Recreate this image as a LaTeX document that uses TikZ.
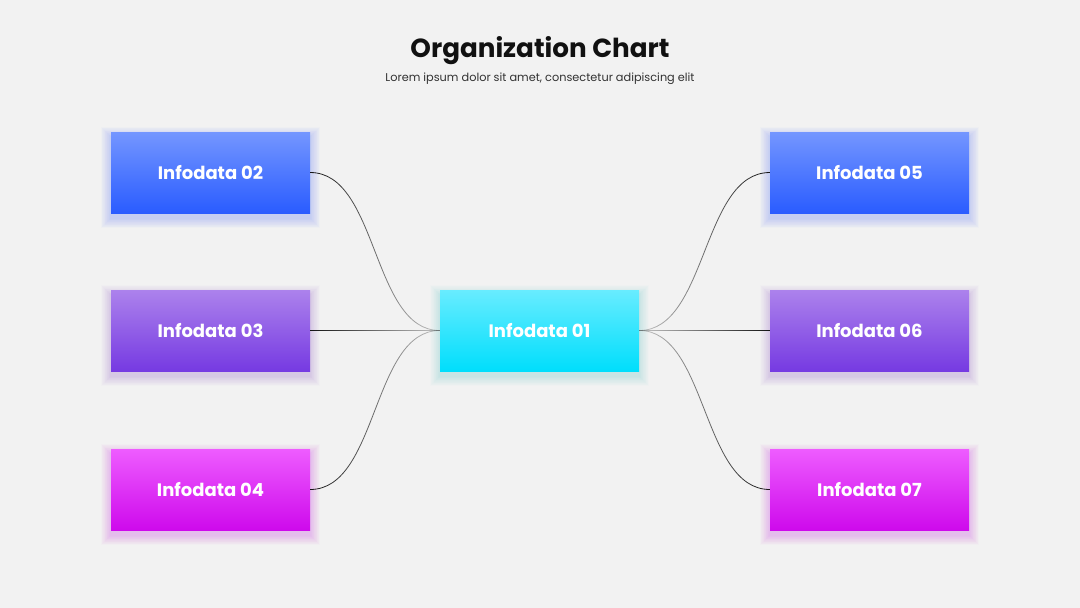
\documentclass[tikz,border=0pt]{standalone}
\usepackage{fontspec}
\setmainfont{Poppins}
\usetikzlibrary{fadings}
\pgfdeclarelayer{bottom}
\pgfdeclarelayer{glowlayer}
\pgfsetlayers{bottom,glowlayer,main}
\definecolor{bg}{RGB}{242,242,242}
\definecolor{blueT}{RGB}{116,150,255}
\definecolor{blueB}{RGB}{42,92,255}
\definecolor{purT}{RGB}{172,130,236}
\definecolor{purB}{RGB}{118,58,226}
\definecolor{magT}{RGB}{238,92,255}
\definecolor{magB}{RGB}{206,10,236}
\definecolor{cyaT}{RGB}{104,236,255}
\definecolor{cyaB}{RGB}{0,222,252}
\definecolor{ink}{RGB}{17,17,17}
\definecolor{sub}{RGB}{50,50,50}
\definecolor{wire}{RGB}{20,20,20}
\tikzfading[name=fadeEast, left color=transparent!0, right color=transparent!80]
\tikzfading[name=fadeWest, left color=transparent!80, right color=transparent!0]
\tikzset{
  card/.style={minimum width=199pt, minimum height=81pt, inner sep=0pt,
    text=white, font=\bfseries\fontsize{18}{21}\selectfont},
  blue/.style={card, top color=blueT, bottom color=blueB},
  purp/.style={card, top color=purT, bottom color=purB},
  mage/.style={card, top color=magT, bottom color=magB},
  cyan/.style={card, top color=cyaT, bottom color=cyaB},
  wireL/.style={draw=wire, line width=0.8pt, path fading=fadeEast},
  wireR/.style={draw=wire, line width=0.8pt, path fading=fadeWest},
  glowfill/.style={fill=#1, opacity=0.016},
}
\newcommand{\cardglow}[2]{%
  \begin{pgfonlayer}{glowlayer}
  \foreach \i in {1,...,14}{
    \fill[glowfill=#2] ([shift={(-\i*0.7,5-\i*0.7)}]#1.north west) rectangle ([shift={(\i*0.7,5+\i*0.7)}]#1.south east);
  }
  \end{pgfonlayer}}
\begin{document}
\begin{tikzpicture}[x=1pt,y=-1pt]
\begin{pgfonlayer}{bottom}
\fill[bg] (0,0) rectangle (1080,608);
\end{pgfonlayer}
\useasboundingbox (0,0) rectangle (1080,608);
\node[text=ink, font=\bfseries\fontsize{26.2}{30}\selectfont] (title) at (540,51) {Organization Chart};
\node[text=sub, font=\fontsize{11.3}{13}\selectfont] (subtitle) at (540,78.5) {Lorem ipsum dolor sit amet, consectetur adipiscing elit};

\node[cyan] (b01) at (539.5,330.5) {Infodata 01};
\node[blue] (b02) at (210.5,172.5) {Infodata 02};
\node[purp] (b03) at (210.5,330.5) {Infodata 03};
\node[mage] (b04) at (210.5,489.5) {Infodata 04};
\node[blue] (b05) at (869.5,172.5) {Infodata 05};
\node[purp] (b06) at (869.5,330.5) {Infodata 06};
\node[mage] (b07) at (869.5,489.5) {Infodata 07};

\cardglow{b01}{cyaB!60!gray}
\cardglow{b02}{blueB}
\cardglow{b03}{purB}
\cardglow{b04}{magB}
\cardglow{b05}{blueB}
\cardglow{b06}{purB}
\cardglow{b07}{magB}

\path[wireL] (b02.east) .. controls +(68,0) and +(-68,0) .. (b01.west);
\path[wireL] (b03.east) .. controls +(60,0.3) and +(-60,-0.3) .. (b01.west);
\path[wireL] (b04.east) .. controls +(68,0) and +(-68,0) .. (b01.west);
\path[wireR] (b01.east) .. controls +(68,0) and +(-68,0) .. (b05.west);
\path[wireR] (b01.east) .. controls +(60,0.3) and +(-60,-0.3) .. (b06.west);
\path[wireR] (b01.east) .. controls +(68,0) and +(-68,0) .. (b07.west);
\end{tikzpicture}
\end{document}
